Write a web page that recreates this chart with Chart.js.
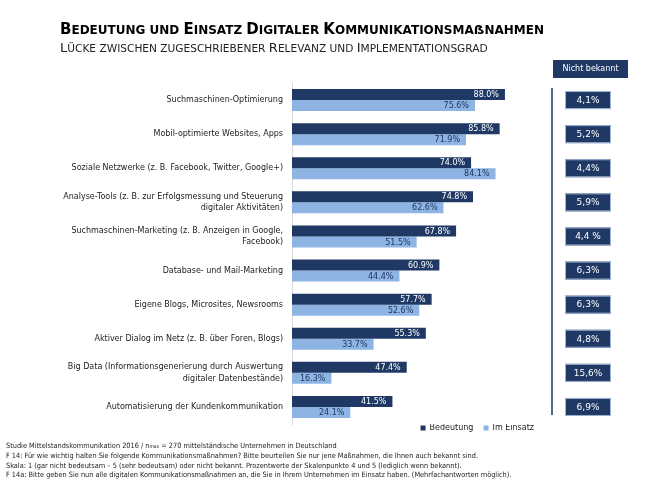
<html>
<head>
<meta charset="utf-8">
<title>Bedeutung und Einsatz digitaler Kommunikationsmaßnahmen</title>
<script src="https://cdn.jsdelivr.net/npm/chart.js@4.4.0/dist/chart.umd.min.js"></script>
<style>
  body { margin: 0; background: #fff; }
  #wrap { position: relative; width: 650px; height: 486px; }
  #chart { position: absolute; left: 0; top: 0; }
  .title { position: absolute; left: 60px; top: 22px; font: bold 12px "DejaVu Sans"; line-height: 15px; color: #000; white-space: nowrap; }
  .title .b { font-size: 15px; }
  .subtitle { position: absolute; left: 60px; top: 41px; font: 10.6px "DejaVu Sans"; line-height: 13px; color: #222; white-space: nowrap; }
  .subtitle .b { font-size: 13px; }
  .notes { position: absolute; left: 6px; top: 441px; font: 7.3px "DejaVu Sans Condensed"; line-height: 9.3px; color: #222; white-space: nowrap; }
  .notes sub { font-size: 5px; vertical-align: 0; }
</style>
</head>
<body>
<div id="wrap">
  <canvas id="chart" width="650" height="486"></canvas>
  <div class="title"><span class="b">B</span>EDEUTUNG UND <span class="b">E</span>INSATZ <span class="b">D</span>IGITALER <span class="b">K</span>OMMUNIKATIONSMAẞNAHMEN</div>
  <div class="subtitle"><span class="b">L</span>ÜCKE ZWISCHEN ZUGESCHRIEBENER <span class="b">R</span>ELEVANZ UND <span class="b">I</span>MPLEMENTATIONSGRAD</div>
  <div class="notes">
    Studie Mittelstandskommunikation 2016 / n<sub>max</sub> = 270 mittelständische Unternehmen in Deutschland<br>
    F 14: Für wie wichtig halten Sie folgende Kommunikationsmaßnahmen? Bitte beurteilen Sie nur jene Maßnahmen, die Ihnen auch bekannt sind.<br>
    Skala: 1 (gar nicht bedeutsam – 5 (sehr bedeutsam) oder nicht bekannt. Prozentwerte der Skalenpunkte 4 und 5 (lediglich wenn bekannt).<br>
    F 14a: Bitte geben Sie nun alle digitalen Kommunikationsmaßnahmen an, die Sie in Ihrem Unternehmen im Einsatz haben. (Mehrfachantworten möglich).
  </div>
</div>
<script>
var categories = [
    "Suchmaschinen-Optimierung",
    "Mobil-optimierte Websites, Apps",
    "Soziale Netzwerke (z. B. Facebook, Twitter, Google+)",
    ["Analyse-Tools (z. B. zur Erfolgsmessung und Steuerung", "digitaler Aktivitäten)"],
    ["Suchmaschinen-Marketing (z. B. Anzeigen in Google,", "Facebook)"],
    "Database- und Mail-Marketing",
    "Eigene Blogs, Microsites, Newsrooms",
    "Aktiver Dialog im Netz (z. B. über Foren, Blogs)",
    ["Big Data (Informationsgenerierung durch Auswertung", "digitaler Datenbestände)"],
    "Automatisierung der Kundenkommunikation"
];
var bedeutung = [88.0, 85.8, 74.0, 74.8, 67.8, 60.9, 57.7, 55.3, 47.4, 41.5];
var imEinsatz = [75.6, 71.9, 84.1, 62.6, 51.5, 44.4, 52.6, 33.7, 16.3, 24.1];
var nichtBekannt = ["4,1%", "5,2%", "4,4%", "5,9%", "4,4 %", "6,3%", "6,3%", "4,8%", "15,6%", "6,9%"];

var navy = "#1f3864";
var lightBlue = "#8db4e2";

// value labels on the bars + the "Nicht bekannt" column on the right
var extras = {
    id: "extras",
    afterDatasetsDraw: function(chart) {
        var ctx = chart.ctx;
        var area = chart.chartArea;
        var y = chart.scales.y;
        ctx.save();
        ctx.font = '8px "DejaVu Sans"';
        ctx.textAlign = "right";
        ctx.textBaseline = "middle";
        chart.data.datasets.forEach(function(ds, i) {
            chart.getDatasetMeta(i).data.forEach(function(bar, j) {
                ctx.fillStyle = i === 0 ? "#ffffff" : navy;
                ctx.fillText(ds.data[j].toFixed(1) + "%", bar.x - 6, bar.y + 0.5);
            });
        });

        // header box
        ctx.fillStyle = navy;
        ctx.fillRect(area.right + 19, area.top - 23, 75, 18);
        ctx.fillStyle = "#fff";
        ctx.textAlign = "center";
        ctx.fillText("Nicht bekannt", area.right + 19 + 37.5, area.top - 14);

        // vertical line
        ctx.strokeStyle = navy;
        ctx.lineWidth = 1.5;
        ctx.beginPath();
        ctx.moveTo(area.right + 18, y.getPixelForValue(0) - 12);
        ctx.lineTo(area.right + 18, y.getPixelForValue(categories.length - 1) + 8);
        ctx.stroke();

        // value boxes
        ctx.font = '9px "DejaVu Sans"';
        nichtBekannt.forEach(function(v, i) {
            var cy = y.getPixelForValue(i);
            ctx.fillStyle = navy;
            ctx.fillRect(area.right + 31, cy - 9, 46, 18);
            ctx.strokeStyle = "#9fb4d4";
            ctx.lineWidth = 1;
            ctx.strokeRect(area.right + 31.5, cy - 8.5, 45, 17);
            ctx.fillStyle = "#fff";
            ctx.fillText(v, area.right + 31 + 23, cy + 0.5);
        });
        ctx.restore();
    }
};

var ctx = document.getElementById("chart");
var chart = new Chart(ctx, {
    type: "bar",
    data: {
        labels: categories,
        datasets: [{
            label: "Bedeutung",
            data: bedeutung,
            backgroundColor: navy,
            categoryPercentage: 0.645,
            barPercentage: 1.0
        }, {
            label: "Im Einsatz",
            data: imEinsatz,
            backgroundColor: lightBlue,
            categoryPercentage: 0.645,
            barPercentage: 1.0
        }]
    },
    options: {
        indexAxis: "y",
        responsive: false,
        animation: false,
        layout: { padding: { top: 83, right: 116, bottom: 44, left: 0 } },
        plugins: {
            tooltip: { enabled: false },
            legend: {
                position: "bottom",
                align: "end",
                labels: {
                    boxWidth: 5,
                    boxHeight: 5,
                    padding: 0,
                    color: "#222",
                    font: { family: "DejaVu Sans", size: 8 },
                    generateLabels: function(chart) {
                        var items = Chart.defaults.plugins.legend.labels.generateLabels(chart);
                        items[0].text = items[0].text + "    ";
                        return items;
                    }
                }
            }
        },
        scales: {
            x: { display: false, min: 0, max: 100 },
            y: {
                grid: { display: false, drawTicks: false },
                border: { display: true, color: "#d9d9d9" },
                afterFit: function(scale) { scale.width = 292; },
                ticks: {
                    color: "#222",
                    padding: 9,
                    font: { family: "DejaVu Sans", size: 8, lineHeight: 1.4 }
                }
            }
        }
    },
    plugins: [extras]
});
</script>
</body>
</html>
